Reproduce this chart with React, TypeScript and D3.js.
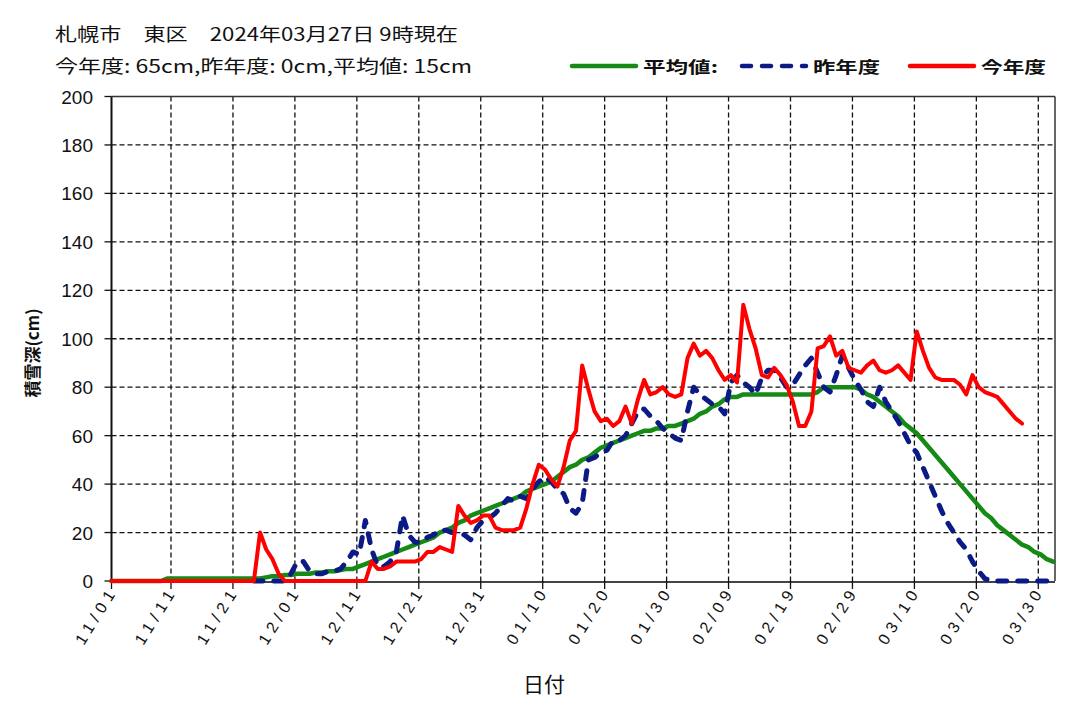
import React from "react";
import * as d3 from "d3";

// ---- data (days counted from 11/01; 2024 leap year) ----
const tickDays = [0, 10, 20, 30, 40, 50, 60, 70, 80, 90, 100, 110, 120, 130, 140, 150];
const tickLabels = ["11/01", "11/11", "11/21", "12/01", "12/11", "12/21", "12/31", "01/10", "01/20", "01/30", "02/09", "02/19", "02/29", "03/10", "03/20", "03/30"];
const yTicks = [0, 20, 40, 60, 80, 100, 120, 140, 160, 180, 200];

// 今年度 (this season) 11/01 .. 03/27
const thisYear = [
  0, 0, 0, 0, 0, 0, 0, 0, 0, 0,
  0, 0, 0, 0, 0, 0, 0, 0, 0, 0,
  0, 0, 0, 0, 20, 13, 9, 3, 0, 0,
  0, 0, 0, 0, 0, 0, 0, 0, 0, 0,
  0, 0, 8, 5, 5, 6, 8, 8, 8, 8,
  9, 12, 12, 14, 13, 12, 31, 27, 24, 25,
  27, 27, 22, 21, 21, 21, 22, 30, 40, 48,
  46, 42, 39, 47, 58, 62, 89, 79, 70, 66,
  67, 64, 66, 72, 65, 75, 83, 77, 78, 80,
  77, 76, 77, 92, 98, 93, 95, 92, 87, 83,
  85, 82, 114, 104, 96, 85, 84, 88, 85, 81,
  74, 64, 64, 70, 96, 97, 101, 93, 95, 88,
  87, 86, 89, 91, 87, 86, 87, 89, 86, 83,
  103, 95, 88, 84, 83, 83, 83, 81, 77, 85,
  80, 78, 77, 76, 73, 70, 67, 65,
];

// 昨年度 (last season); no line drawn before 11/24
const lastYear: (number | null)[] = [
  null, null, null, null, null, null, null, null, null, null,
  null, null, null, null, null, null, null, null, null, null,
  null, null, null, 0, 0, 0, 0, 0, 0, 3,
  8, 8, 4, 3, 3, 4, 4, 5, 8, 12,
  11, 25, 13, 6, 6, 8, 12, 27, 19, 16,
  16, 18, 19, 21, 21, 20, 20, 19, 17, 22,
  25, 26, 28, 31, 34, 33, 35, 34, 38, 41,
  43, 41, 38, 36, 30, 28, 32, 50, 51, 53,
  54, 58, 58, 60, 65, 70, 71, 68, 66, 63,
  61, 59, 58, 70, 80, 77, 75, 73, 72, 69,
  82, 85, 82, 80, 77, 84, 87, 87, 84, 80,
  81, 85, 89, 92, 86, 80, 78, 85, 93, 88,
  83, 79, 74, 72, 80, 74, 70, 66, 61, 56,
  53, 47, 41, 35, 29, 24, 20, 16, 13, 8,
  4, 1, 0, 0, 0, 0, 0, 0, 0, 0,
  0, 0,
];

// 平均値 (average) 11/01 .. 04/01
const average = [
  0, 0, 0, 0, 0, 0, 0, 0, 0, 1,
  1, 1, 1, 1, 1, 1, 1, 1, 1, 1,
  1, 1, 1, 1, 1, 1.5, 2, 2, 2.5, 2.5,
  3, 3, 3, 3.5, 3.5, 4, 4, 4.5, 5, 5,
  6, 7, 8, 9, 10, 11, 12, 13, 14, 15,
  16, 17, 18, 20, 21, 22, 24, 25, 27, 28,
  29, 30, 31, 32, 33, 34, 35, 37, 38, 39,
  40, 41, 43, 45, 47, 48, 50, 51, 53, 55,
  56, 57, 58, 59, 60, 61, 62, 62, 63, 63,
  64, 64, 65, 66, 67, 69, 70, 72, 73, 75,
  76, 76, 77, 77, 77, 77, 77, 77, 77, 77,
  77, 77, 77, 77, 78, 80, 80, 80, 80, 80,
  80, 79, 77, 76, 74, 72, 70, 68, 65, 63,
  61, 58, 55, 52, 49, 46, 43, 40, 37, 34,
  31, 28, 26, 23, 21, 19, 17, 15, 14, 12,
  11, 9, 8,
];

const titleLine1 = "札幌市　東区　2024年03月27日 9時現在";
const titleLine2 = "今年度: 65cm,昨年度:  0cm,平均値: 15cm";
const legendItems = [
  { label: "平均値:", color: "#158a15", dash: "" },
  { label: "昨年度", color: "#0b1a85", dash: "9,11" },
  { label: "今年度", color: "#ff0000", dash: "" },
];

const W = 1075;
const H = 714;
const X0 = 111.5;
const X1 = 1055;
const Y0 = 581;
const Y1 = 96.5;
const FONT = "'Noto Sans CJK JP', 'Liberation Sans', sans-serif";
const NUMFONT = "'Liberation Sans', 'DejaVu Sans', sans-serif";

export default function App() {
  const x = d3.scaleLinear().domain([0, 150]).range([109.05, 1038.3]);
  const y = d3.scaleLinear().domain([0, 200]).range([Y0, Y1]);
  const OFF = 0.375; // readings taken at 9:00

  const line = d3
    .line<number | null>()
    .defined((v) => v !== null)
    .x((_, i) => x(i + OFF))
    .y((v) => y(v as number));

  const tickX = (d: number) => (d === 0 ? X0 : x(d));

  return (
    <div style={{ position: "absolute", left: 0, top: 0 }}>
      <svg width={W} height={H} style={{ display: "block", background: "#fff" }}>
        {/* titles */}
        <text x={55} y={41} fontFamily={FONT} fontSize={18} fill="#111" textLength={403} lengthAdjust="spacingAndGlyphs">
          {titleLine1}
        </text>
        <text x={55} y={73} fontFamily={FONT} fontSize={18} fill="#111" textLength={417} lengthAdjust="spacingAndGlyphs">
          {titleLine2}
        </text>

        {/* legend */}
        {legendItems.map((it, i) => {
          const lx = [572, 742, 910][i];
          const tl = [75, 67, 65][i];
          return (
            <g key={it.label}>
              <line x1={lx} x2={lx + 64} y1={66} y2={66} stroke={it.color} strokeWidth={4.5}
                strokeDasharray={it.dash || undefined} strokeLinecap="round" />
              <text x={lx + 71} y={73} fontFamily={FONT} fontSize={16} fontWeight="bold" fill="#111"
                textLength={tl} lengthAdjust="spacingAndGlyphs">
                {it.label}
              </text>
            </g>
          );
        })}

        {/* grid */}
        {yTicks.filter((v) => v > 0 && v < 200).map((v) => (
          <line key={"gy" + v} x1={X0} x2={X1} y1={y(v)} y2={y(v)} stroke="#111" strokeWidth={1.3} strokeDasharray="5,3" />
        ))}
        {tickDays.filter((d) => d > 0).map((d) => (
          <line key={"gx" + d} x1={x(d)} x2={x(d)} y1={Y1} y2={Y0} stroke="#111" strokeWidth={1.3} strokeDasharray="5,3" />
        ))}

        {/* frame */}
        <line x1={X0} x2={X1} y1={Y1} y2={Y1} stroke="#333" strokeWidth={1.5} />
        <line x1={X1} x2={X1} y1={Y1} y2={Y0} stroke="#333" strokeWidth={1.5} />
        <line x1={X0} x2={X0} y1={Y1} y2={Y0 + 1} stroke="#111" strokeWidth={2} />
        <line x1={X0} x2={X1} y1={Y0 + 1} y2={Y0 + 1} stroke="#444" strokeWidth={2.2} />

        {/* ticks */}
        {yTicks.map((v) => (
          <g key={"ty" + v}>
            <line x1={X0 - 7} x2={X0} y1={y(v)} y2={y(v)} stroke="#111" strokeWidth={1.3} />
            <text x={93} y={y(v) + 7} textAnchor="end" fontFamily={NUMFONT} fontSize={19} fill="#111">
              {v}
            </text>
          </g>
        ))}
        {tickDays.map((d, i) => (
          <g key={"tx" + d}>
            <line x1={tickX(d)} x2={tickX(d)} y1={Y0} y2={Y0 + 8} stroke="#111" strokeWidth={1.3} />
            <text
              transform={`translate(${tickX(d) + 4},${Y0 + 14}) rotate(-58)`}
              textAnchor="end"
              fontFamily={NUMFONT}
              fontSize={16}
              fill="#111"
              textLength={60}
              lengthAdjust="spacing"
            >
              {tickLabels[i]}
            </text>
          </g>
        ))}

        {/* series */}
        <path d={line(average) || ""} fill="none" stroke="#158a15" strokeWidth={4.5} strokeLinejoin="round" strokeLinecap="round" />
        <path d={line(lastYear) || ""} fill="none" stroke="#0b1a85" strokeWidth={5} strokeDasharray="9,11" strokeLinejoin="round" strokeLinecap="round" />
        <path d={line(thisYear) || ""} fill="none" stroke="#ff0000" strokeWidth={4} strokeLinejoin="round" strokeLinecap="round" />

        {/* axis titles */}
        <text x={544} y={692} textAnchor="middle" fontFamily={FONT} fontSize={21} fill="#111">
          日付
        </text>
        <text
          transform="translate(39,353) rotate(-90)"
          textAnchor="middle"
          fontFamily={FONT}
          fontSize={17}
          fontWeight="bold"
          fill="#111"
        >
          積雪深(cm)
        </text>
      </svg>
    </div>
  );
}
